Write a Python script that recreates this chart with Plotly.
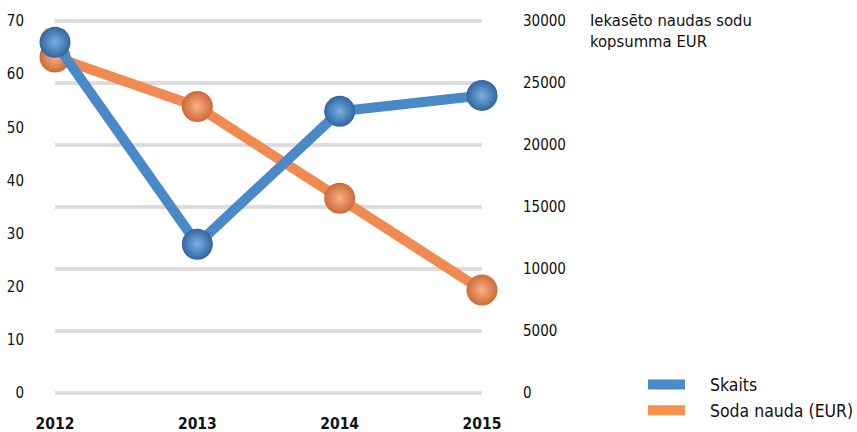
import plotly.graph_objects as go

# Data
years = ["2012", "2013", "2014", "2015"]
skaits = [66, 28, 53, 56]                      # count (left axis)
soda_nauda = [27100, 23100, 15700, 8300]       # fine total, EUR (right axis)

left_ticks = [0, 10, 20, 30, 40, 50, 60, 70]
right_ticks = [0, 5000, 10000, 15000, 20000, 25000, 30000]

BLUE = "#4a89c8"
ORANGE = "#f08a50"

FONT = "DejaVu Sans Condensed, sans-serif"
PAD = "\u00a0" * 4   # extra gap between legend swatch and label

# small padding so the edge grid lines (0 and max) are still drawn
lpad = 0.566
rpad = lpad * 30000 / 70

fig = go.Figure()

# Orange series on the main (right-side) axis, drawn underneath
fig.add_trace(go.Scatter(
    x=years, y=soda_nauda, yaxis="y", mode="lines+markers",
    line=dict(color=ORANGE, width=10),
    marker=dict(size=31, color="#cc6a35", line=dict(width=0),
                gradient=dict(type="radial", color="#f9b088")),
    cliponaxis=False, showlegend=False, hoverinfo="skip",
))

# Blue series on the overlaid left axis, drawn on top
fig.add_trace(go.Scatter(
    x=years, y=skaits, yaxis="y2", mode="lines+markers",
    line=dict(color=BLUE, width=10),
    marker=dict(size=31, color="#3065a0", line=dict(width=0),
                gradient=dict(type="radial", color="#7cb0e2")),
    cliponaxis=False, showlegend=False, hoverinfo="skip",
))

# Legend entries as wide colour swatches
fig.add_trace(go.Scatter(x=[None], y=[None], mode="lines", name=PAD + "Skaits",
                         line=dict(color="#4a8bca", width=16)))
fig.add_trace(go.Scatter(x=[None], y=[None], mode="lines", name=PAD + "Soda nauda (EUR)",
                         line=dict(color="#f79150", width=16)))

tick_font = dict(family=FONT, size=15, color="#111111")

fig.update_layout(
    width=857, height=432,
    margin=dict(l=55, r=375, t=18, b=36, autoexpand=False),
    paper_bgcolor="white", plot_bgcolor="white",
    font=dict(family=FONT, size=16, color="#111111"),
    xaxis=dict(
        type="category", range=[0, 3], showgrid=False, zeroline=False,
        showline=False, ticks="", automargin=False,
        tickfont=dict(family=FONT, size=15.5, color="#111111", weight="bold"),
        ticklabelstandoff=16,
    ),
    yaxis=dict(
        side="right", range=[-rpad, 30000 + rpad], tickvals=right_ticks,
        ticktext=[str(v) for v in right_ticks],
        showgrid=True, gridcolor="#dcdcdc", gridwidth=4,
        zeroline=False, showline=False, ticks="", automargin=False,
        ticklabelstandoff=40, tickfont=tick_font,
    ),
    yaxis2=dict(
        overlaying="y", side="left", range=[-lpad, 70 + lpad], tickvals=left_ticks,
        showgrid=False, zeroline=False, showline=False, ticks="", automargin=False,
        ticklabelstandoff=30, tickfont=tick_font,
    ),
    legend=dict(
        x=1.377, y=0.078, xanchor="left", yanchor="top",
        itemwidth=37, tracegroupgap=0,
        font=dict(family=FONT, size=17.5, color="#111111"),
        bgcolor="rgba(0,0,0,0)",
    ),
    annotations=[dict(
        text="Iekasēto naudas sodu<br>kopsumma EUR",
        xref="paper", yref="paper", x=1.248, y=1.023,
        xanchor="left", yanchor="top", align="left", showarrow=False,
        font=dict(family=FONT, size=16.5, color="#111111"),
    )],
)

fig.write_html("out.html")
